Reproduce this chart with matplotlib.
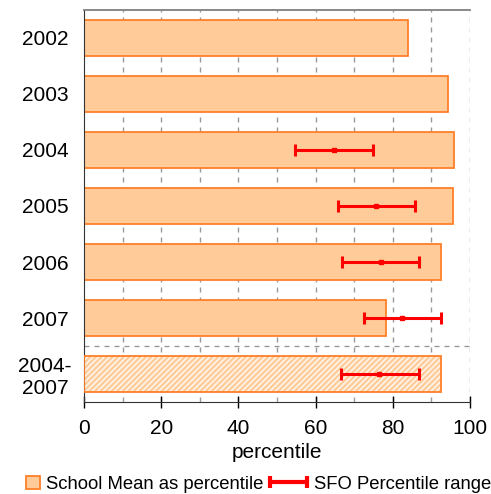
import numpy as np
import matplotlib
matplotlib.use('Agg')
import matplotlib.pyplot as plt
from matplotlib.patches import Patch
from matplotlib.container import ErrorbarContainer
from matplotlib.legend_handler import HandlerErrorbar

plt.rcParams['font.family'] = ['Liberation Sans', 'DejaVu Sans']
plt.rcParams['font.size'] = 15
plt.rcParams['hatch.linewidth'] = 1.2

years = ['2002', '2003', '2004', '2005', '2006', '2007', '2004-\n2007']
school_mean = [84.0, 94.3, 95.9, 95.7, 92.5, 78.3, 92.5]
sfo_mid = [np.nan, np.nan, 64.8, 75.6, 76.9, 82.4, 76.4]
sfo_low = [np.nan, np.nan, 54.7, 65.7, 66.8, 72.5, 66.5]
sfo_high = [np.nan, np.nan, 74.9, 85.8, 86.9, 92.5, 86.7]

fill = '#FFCC99'
edge = '#FF7F27'

fig = plt.figure(figsize=(4.91, 4.94), dpi=100)
ax = fig.add_axes([0.171, 0.186, 0.786, 0.794])

y = np.arange(len(years))
h = 0.64
ax.barh(y[:-1], school_mean[:-1], height=h, color=fill, edgecolor=edge, linewidth=1.3, zorder=2)
ax.barh(y[-1], school_mean[-1], height=h, color=fill, edgecolor='#FFF4EA', hatch='//////', linewidth=0, zorder=2)
ax.barh(y[-1], school_mean[-1], height=h, fill=False, edgecolor=edge, linewidth=1.3, zorder=3)

mid = np.array(sfo_mid)
err = [mid - np.array(sfo_low), np.array(sfo_high) - mid]
ax.errorbar(mid, y, xerr=err, fmt='s', color='red', ecolor='red', markersize=3,
            elinewidth=2.2, capsize=4, capthick=2.2, zorder=4)

ax.axhline(5.5, color='#999999', linestyle=(0, (3.6, 3.6)), linewidth=1, zorder=1)
for gx in range(10, 101, 10):
    ax.axvline(gx, color='#999999', linestyle=(0, (3.6, 3.6)), linewidth=1, zorder=1)

ax.set_xlim(0, 100)
ax.set_ylim(6.5, -0.5)
ax.set_yticks(y)
ax.set_yticklabels(years, ha='center')
ax.tick_params(axis='y', length=0, pad=28)
ax.set_xticks(range(0, 101, 20))
ax.tick_params(axis='x', direction='inout', length=8, width=1, pad=8)
ax.set_xlabel('percentile', labelpad=4)

ax.spines['right'].set_visible(False)
ax.spines['top'].set_color('#808080')
ax.spines['top'].set_linewidth(1.3)
ax.spines['left'].set_color('#333333')
ax.spines['bottom'].set_color('#333333')

# legend: two pieces so each handle gets its own length
eb = ax.errorbar([200], [0], xerr=[[5], [5]], fmt='none', ecolor='red',
                 elinewidth=3, capsize=4, capthick=3)
leg1 = fig.legend([Patch(facecolor=fill, edgecolor=edge, linewidth=1.3)],
                  ['School Mean as percentile'],
                  loc='center left', bbox_to_anchor=(0.053, 0.02), frameon=False,
                  handlelength=0.75, handleheight=0.75, handletextpad=0.35, fontsize=13.3,
                  borderpad=0, borderaxespad=0)
leg2 = fig.legend([eb], ['SFO Percentile range'],
                  loc='center left', bbox_to_anchor=(0.55, 0.02), frameon=False,
                  handlelength=2.0, handletextpad=0.4, fontsize=13.3,
                  borderpad=0, borderaxespad=0,
                  handler_map={ErrorbarContainer: HandlerErrorbar(xerr_size=1.0)})

fig.savefig('out.png', dpi=100)
